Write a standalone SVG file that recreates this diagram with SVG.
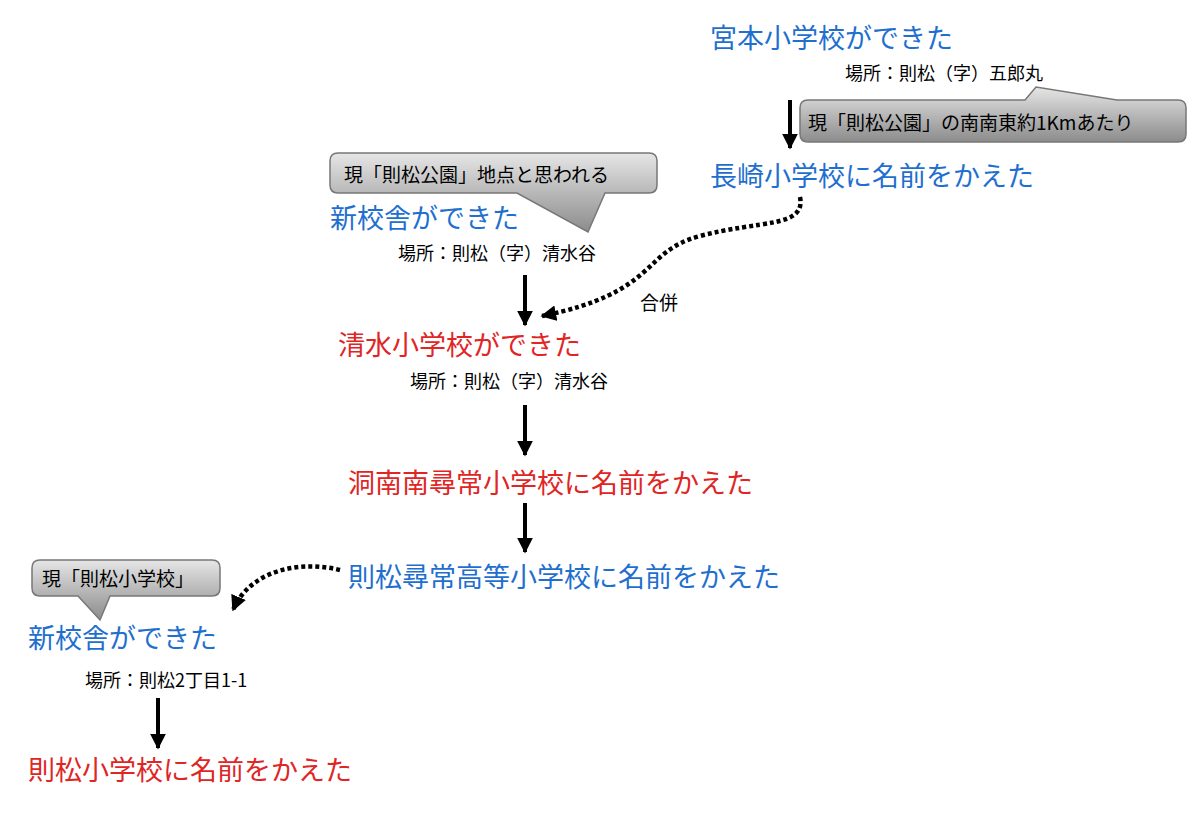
<svg xmlns="http://www.w3.org/2000/svg" width="1200" height="813" viewBox="0 0 1200 813">
<defs>
<linearGradient id="g" x1="0" y1="0" x2="0" y2="1"><stop offset="0" stop-color="#e6e6e6"/><stop offset="0.5" stop-color="#b8b8b8"/><stop offset="1" stop-color="#8c8c8c"/></linearGradient>
<marker id="ah" viewBox="0 0 10 10" refX="9" refY="5" markerWidth="4" markerHeight="4" orient="auto"><path d="M0,0L10,5L0,10z" fill="#000"/></marker>
<marker id="ad" viewBox="0 0 10 10" refX="9" refY="5" markerWidth="3.5" markerHeight="3.5" orient="auto"><path d="M0,0L10,5L0,10z" fill="#000"/></marker>
</defs>
<style>
text{font-family:"Noto Sans CJK JP","Liberation Sans",sans-serif}
.t{font-size:27px}.b{fill:#1f6fcf}.r{fill:#e02525}.s{font-size:18px;fill:#000}.c{font-size:19px;fill:#000}
.co{fill:url(#g);stroke:#777;stroke-width:1.5}
.ar{stroke:#000;stroke-width:4;fill:none;marker-end:url(#ah)}
.dt{stroke:#000;stroke-width:4.5;stroke-dasharray:4 3;fill:none;marker-end:url(#ad)}
</style>
<rect width="1200" height="813" fill="#fff"/>
<g id="connectors">
<line class="ar" x1="790" y1="100" x2="790" y2="148"/>
<line class="ar" x1="525" y1="275" x2="525" y2="325"/>
<line class="ar" x1="525" y1="405" x2="525" y2="455"/>
<line class="ar" x1="525" y1="503" x2="525" y2="552"/>
<line class="ar" x1="158" y1="698" x2="158" y2="748"/>
<path class="dt" d="M800,197 C806,228 760,220 700,236 C640,252 660,292 542,316"/>
<text class="c" x="640" y="310">合併</text>
<path class="dt" d="M340,570 C300,560 250,570 233,610"/>
</g>
<g id="n1"><text class="t b" x="710" y="48">宮本小学校ができた</text><text class="s" x="845" y="80">場所：則松（字）五郎丸</text></g>
<g id="c1"><path class="co" d="M808,100 H1025 L1036,87 L1117,100 H1178 Q1186,100 1186,108 V134 Q1186,142 1178,142 H808 Q800,142 800,134 V108 Q800,100 808,100Z"/><text class="c" x="808" y="130">現「則松公園」の南南東約1Kmあたり</text></g>
<g id="n2"><text class="t b" x="710" y="186">長崎小学校に名前をかえた</text></g>
<g id="c2"><path class="co" d="M338,153 H649 Q657,153 657,161 V185 Q657,193 649,193 H605 L588,232 L517,193 H338 Q330,193 330,185 V161 Q330,153 338,153Z"/><text class="c" x="344" y="182">現「則松公園」地点と思われる</text></g>
<g id="n3"><text class="t b" x="330" y="228">新校舎ができた</text><text class="s" x="398" y="260">場所：則松（字）清水谷</text></g>
<g id="n4"><text class="t r" x="338" y="355">清水小学校ができた</text><text class="s" x="410" y="388">場所：則松（字）清水谷</text></g>
<g id="n5"><text class="t r" x="348" y="493">洞南南尋常小学校に名前をかえた</text></g>
<g id="n6"><text class="t b" x="348" y="587">則松尋常高等小学校に名前をかえた</text></g>
<g id="c3"><path class="co" d="M40,560 H212 Q220,560 220,568 V588 Q220,596 212,596 H110 L100,620 L78,596 H40 Q32,596 32,588 V568 Q32,560 40,560Z"/><text class="c" x="42" y="586">現「則松小学校」</text></g>
<g id="n7"><text class="t b" x="28" y="648">新校舎ができた</text><text class="s" x="85" y="687">場所：則松2丁目1-1</text></g>
<g id="n8"><text class="t r" x="28" y="780">則松小学校に名前をかえた</text></g>
</svg>
